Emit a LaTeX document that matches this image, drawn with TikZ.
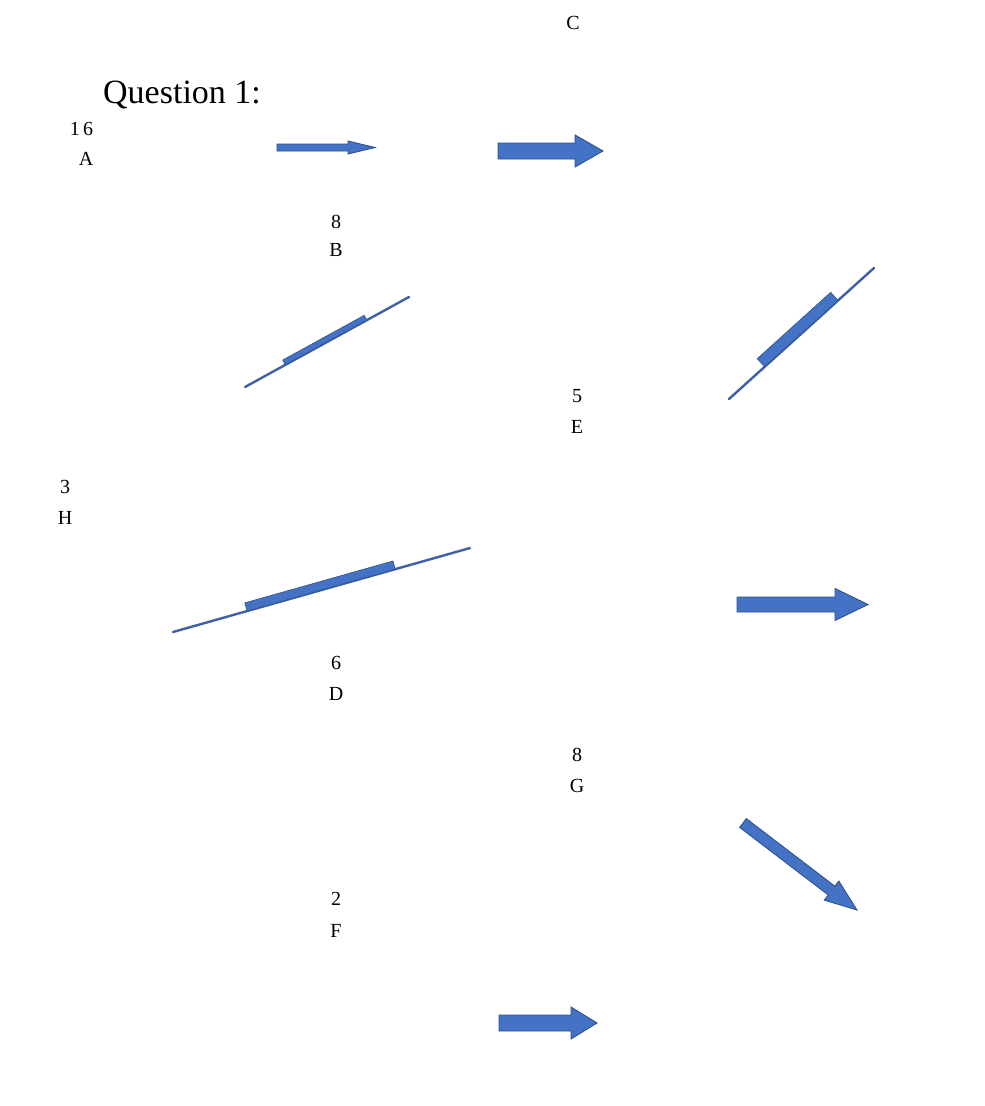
\documentclass[tikz,border=0pt]{standalone}
\usepackage{fontspec}
\setmainfont{Liberation Serif}
\usepackage{xcolor}
\usepackage{tikz}
\usetikzlibrary{calc}
\usetikzlibrary{positioning}

\definecolor{arrowblue}{HTML}{4472C4}
\definecolor{arrowedge}{HTML}{2F528F}
\definecolor{arrowline}{HTML}{3F5FA8}

\tikzset{
  lbl/.style={anchor=base, inner sep=0pt, font=\fontsize{20}{24}\selectfont},
  title/.style={anchor=base west, inner sep=0pt, font=\fontsize{34}{40}\selectfont},
  blockarrow/.style={fill=arrowblue, draw=arrowedge, line width=0.9pt, line join=miter},
  flatarrow/.style={draw=arrowline, line width=2.4pt, line cap=round},
}

\begin{document}
\begin{tikzpicture}[x=1pt, y=-1pt]
      \useasboundingbox (0,0) rectangle (985,1106);

      % labels
      \node[lbl] (labC) at (573, 29) {C};
      \node[title] (question) at (103, 103) {Question 1:};
      \node[lbl] (numA) at (81.5, 135) {1\,6};
      \node[lbl] (labA) at (86, 165) {A};
      \node[lbl] (numB) at (336, 228) {8};
      \node[lbl] (labB) at (336, 256) {B};
      \node[lbl] (numE) at (577, 402) {5};
      \node[lbl] (labE) at (577, 433) {E};
      \node[lbl] (numH) at (65, 493) {3};
      \node[lbl] (labH) at (65, 524) {H};
      \node[lbl] (numD) at (336, 669) {6};
      \node[lbl] (labD) at (336, 700) {D};
      \node[lbl] (numG) at (577, 761) {8};
      \node[lbl] (labG) at (577, 792) {G};
      \node[lbl] (numF) at (336, 905) {2};
      \node[lbl] (labF) at (336, 937) {F};

      % block arrows: start x / start y / angle / length / shaft / head / head length
      \foreach \px/\py/\rot/\lng/\sw/\hw/\hl in {
          277/147.5/0/98/3.5/6.5/27,
          498/151/0/105/8/16/28,
          737/604.5/0/131/7.5/16/33,
          499/1023/0/98/8/16/26,
          743/823/-37.35/143.4/5.5/12/32}{
        \begin{scope}[shift={(\px,\py)}, rotate=\rot]
          \draw[blockarrow] (0,-\sw) -- ({\lng-\hl},-\sw) -- ({\lng-\hl},-\hw)
            -- (\lng,0) -- ({\lng-\hl},\hw) -- ({\lng-\hl},\sw) -- (0,\sw) -- cycle;
        \end{scope}
      }

      % arrows seen edge on: start x / start y / angle / length / band from / band to / band width
      \foreach \px/\py/\rot/\lng/\ba/\bb/\bw in {
          245/387/28.76/187.1/46/139/5.5,
          729/399/42.1/195.4/48/147/11,
          173/632/15.79/308.6/77/231/8.5}{
        \begin{scope}[shift={(\px,\py)}, rotate=\rot]
          \draw[flatarrow] (0,0) -- (\lng,0);
          \draw[blockarrow, line width=0.6pt] (\ba,0) rectangle (\bb,-\bw);
        \end{scope}
      }

\end{tikzpicture}
\end{document}
